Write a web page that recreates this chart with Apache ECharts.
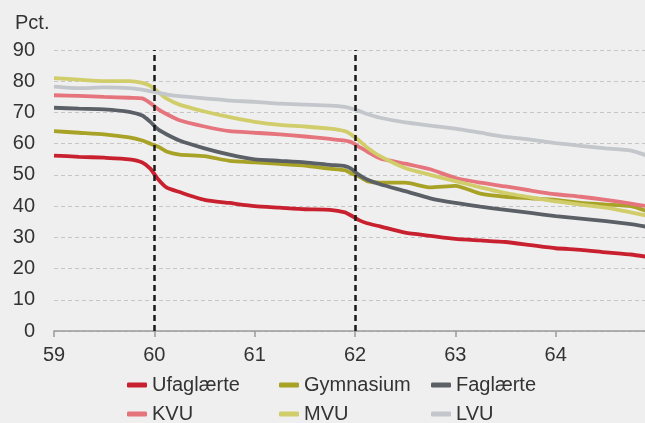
<!DOCTYPE html>
<html>
<head>
<meta charset="utf-8">
<script src="https://cdn.jsdelivr.net/npm/echarts@6/dist/echarts.min.js"></script>
<style>
  html, body { margin: 0; padding: 0; background: #efefef; }
  #chart { width: 645px; height: 423px; }
</style>
</head>
<body>
<div id="chart"></div>
<script>
var ages = [59, 59.25, 59.5, 59.75, 59.88, 59.96, 60.04, 60.12, 60.25, 60.5, 60.75,
    61, 61.25, 61.5, 61.75, 61.9, 61.96, 62.04, 62.12, 62.25, 62.5, 62.75,
    63, 63.25, 63.5, 63.75, 64, 64.25, 64.5, 64.75, 64.9];

var ufaglaerte = [56.2, 55.8, 55.5, 55, 54, 52, 48.5, 46, 44.5, 42, 41,
    40, 39.5, 39, 38.8, 38, 37, 35.5, 34.5, 33.5, 31.5, 30.5,
    29.5, 29, 28.5, 27.5, 26.5, 26, 25.2, 24.5, 23.8];
var gymnasium = [64, 63.5, 63, 62, 61, 60, 59, 57.5, 56.5, 56, 54.5,
    54, 53.5, 53, 52, 51.5, 50.5, 49.5, 48, 47.5, 47.5, 46,
    46.5, 44, 43, 42.5, 42, 41, 40.5, 40, 38.5];
var faglaerte = [71.5, 71.2, 71, 70.2, 69, 67, 64.5, 63, 61, 58.5, 56.5,
    55, 54.5, 54, 53.2, 52.8, 52, 50, 48.5, 47, 44.8, 42.5,
    41, 39.8, 38.8, 37.8, 36.8, 36, 35.2, 34.2, 33.4];
var kvu = [75.5, 75.3, 75, 74.7, 74.5, 73, 71, 69.5, 67.5, 65.5, 64,
    63.5, 63, 62.3, 61.5, 61, 60.5, 59, 57.5, 55.3, 53.6, 51.8,
    49, 47.5, 46.3, 45, 43.8, 43, 42, 40.8, 40];
var mvu = [81, 80.5, 80, 80, 79.5, 78.5, 76.5, 74.5, 72.5, 70.3, 68.5,
    67, 66, 65.5, 64.8, 64, 63, 61, 58.8, 56, 52.2, 50,
    48, 46, 44.2, 42.8, 41.5, 40.5, 39.5, 38, 37];
var lvu = [78.3, 77.8, 78, 77.8, 77.3, 76.8, 76.3, 75.8, 75.2, 74.5, 73.8,
    73.4, 72.8, 72.5, 72.2, 71.8, 71.3, 70.5, 69.5, 68.3, 66.8, 65.8,
    64.8, 63.5, 62.2, 61.3, 60.2, 59.3, 58.5, 57.8, 56.3];

var seriesNames = ['Ufaglærte', 'Gymnasium', 'Faglærte', 'KVU', 'MVU', 'LVU'];
var seriesValues = [ufaglaerte, gymnasium, faglaerte, kvu, mvu, lvu];
var seriesColors = ['#c8202f', '#a8a226', '#5b6067', '#e5747d', '#d0cd6a', '#c3c6ca'];
var cutoffAges = [60, 62];

function pairs(values) {
    return ages.map(function (a, i) { return [a, values[i]]; });
}

var series = seriesNames.map(function (name, i) {
    return {
        name: name,
        type: 'line',
        data: pairs(seriesValues[i]),
        smooth: 0.2,
        symbol: 'none',
        z: 3,
        lineStyle: { width: 3.8, color: seriesColors[i] },
        itemStyle: { color: seriesColors[i] }
    };
});

// dashed markers at the two cut-off ages, on top of the lines
series.push({
    name: 'cutoff',
    type: 'line',
    data: [],
    z: 6,
    markLine: {
        silent: true,
        symbol: 'none',
        label: { show: false },
        lineStyle: { color: '#1a1a1a', type: [6, 4], width: 2.5 },
        data: cutoffAges.map(function (a) { return { xAxis: a }; })
    }
});

function makeLegend(left, names) {
    return {
        orient: 'vertical',
        left: left,
        top: 375,
        height: 70,
        padding: 0,
        itemWidth: 20,
        itemHeight: 5,
        itemGap: 9,
        icon: 'roundRect',
        data: names,
        textStyle: { fontSize: 20, lineHeight: 20, color: '#333', fontFamily: 'Liberation Sans' }
    };
}

var chart = echarts.init(document.getElementById('chart'));

chart.setOption({
    backgroundColor: '#efefef',
    animation: false,
    title: {
        text: 'Pct.',
        left: 10,
        top: 8,
        textStyle: { fontSize: 20, fontWeight: 'normal', color: '#333', fontFamily: 'Liberation Sans' }
    },
    grid: { left: 54, right: 0, top: 50, bottom: 92, containLabel: false },
    legend: [
        makeLegend(127, ['Ufaglærte', 'KVU']),
        makeLegend(279, ['Gymnasium', 'MVU']),
        makeLegend(431, ['Faglærte', 'LVU'])
    ],
    xAxis: {
        type: 'value',
        min: 59,
        max: 64.89,
        interval: 1,
        axisLine: { show: true, lineStyle: { color: '#9a9a9a', width: 1.5 } },
        axisTick: { show: true, length: 6, lineStyle: { color: '#9a9a9a', width: 1.5 } },
        axisLabel: {
            margin: 14,
            fontSize: 20,
            color: '#333',
            fontFamily: 'Liberation Sans',
            showMaxLabel: false,
            formatter: function (v) { return Number.isInteger(v) ? String(v) : ''; }
        },
        splitLine: { show: false }
    },
    yAxis: {
        type: 'value',
        min: 0,
        max: 90,
        interval: 10,
        axisLine: { show: false },
        axisTick: { show: false },
        axisLabel: { margin: 19, fontSize: 20, color: '#333', fontFamily: 'Liberation Sans' },
        splitLine: { lineStyle: { color: '#c6c6c6', type: [4, 3], width: 1 } }
    },
    series: series
});
</script>
</body>
</html>
